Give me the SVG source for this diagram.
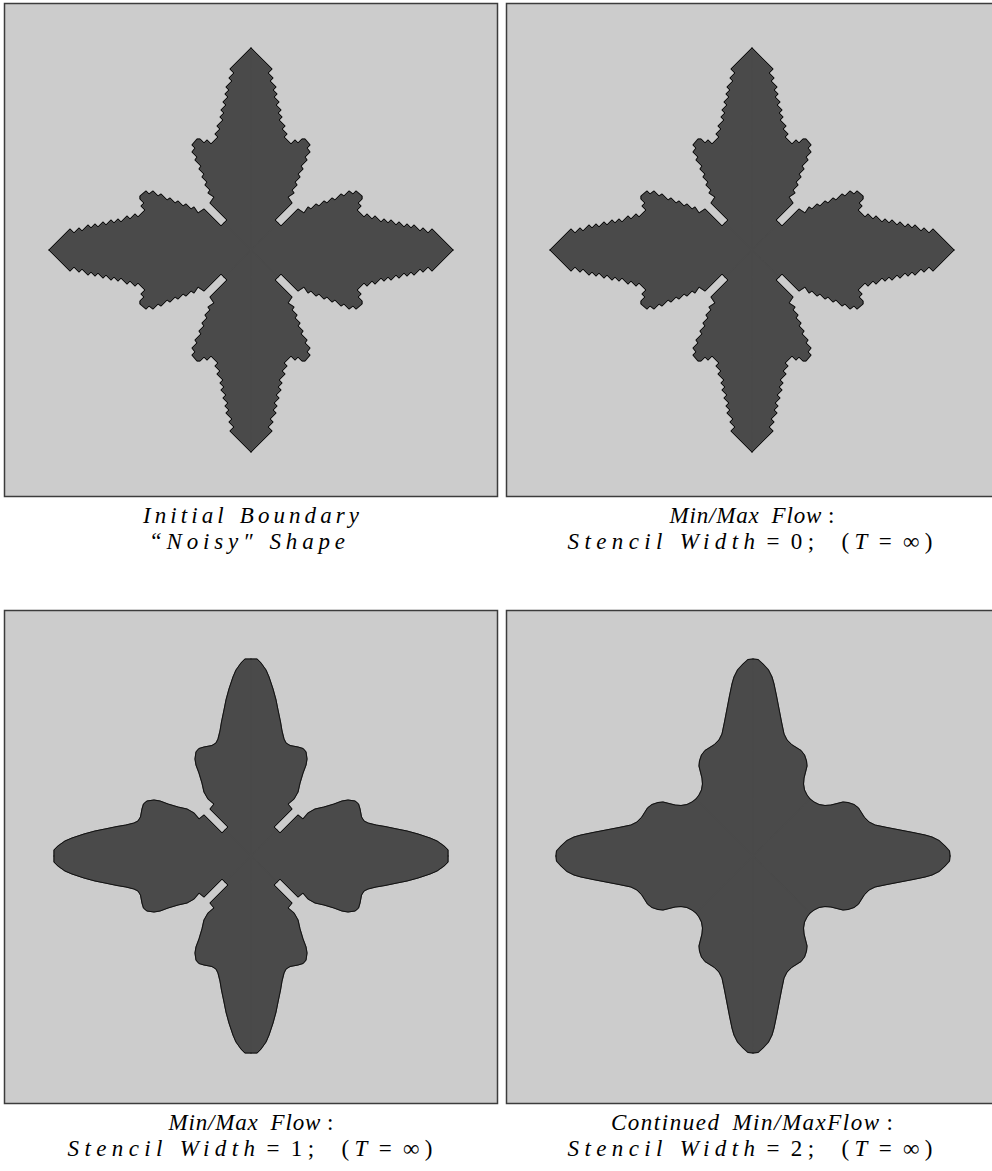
<svg xmlns="http://www.w3.org/2000/svg" width="992" height="1171" viewBox="0 0 992 1171">
<style>
.bg{fill:#ffffff}
.panel{fill:#cccccc;stroke:#3c3c3c;stroke-width:1.5}
.w{fill:#4a4a4a;stroke:#4a4a4a;stroke-width:1.2;stroke-linejoin:round}
.o{fill:none;stroke:#111111;stroke-width:1;stroke-linejoin:miter;stroke-linecap:round}
.cap{font-family:"Liberation Serif","Times New Roman",serif;font-style:italic;font-size:23px;fill:#000000}
.r{font-style:normal}
</style>
<defs>
<path id="s1w" class="w" d="M0,0 L0,-202 L21,-181 L17,-177 L22,-172 L19,-169 L25,-163 L22,-160 L26,-156 L23,-153 L28,-148 L25,-145 L30,-140 L27,-137 L31,-133 L28,-130 L34,-124 L31,-121 L36,-116 L33,-113 L37,-109 L40,-106 L44,-110 L47,-107 L51,-111 L54,-111 L59,-105 L56,-102 L59,-98 L54,-93 L56,-90 L50,-84 L52,-81 L47,-76 L49,-73 L44,-68 L46,-65 L41,-60 L43,-57 L37,-53 L41,-47 L24,-30 L27,-27 Z"/>
<path id="s1o" class="o" d="M0,-202 L21,-181 L17,-177 L22,-172 L19,-169 L25,-163 L22,-160 L26,-156 L23,-153 L28,-148 L25,-145 L30,-140 L27,-137 L31,-133 L28,-130 L34,-124 L31,-121 L36,-116 L33,-113 L37,-109 L40,-106 L44,-110 L47,-107 L51,-111 L54,-111 L59,-105 L56,-102 L59,-98 L54,-93 L56,-90 L50,-84 L52,-81 L47,-76 L49,-73 L44,-68 L46,-65 L41,-60 L43,-57 L37,-53 L41,-47 L24,-30 L27,-27"/>
<path id="s3w" class="w" d="M0,0 L0,-197 L6,-197 L10,-193 L15,-186 L18,-179 L22,-167 L25,-156 L27,-146 L29.5,-134 L31,-125 L33,-117 L35,-113 L39,-110.5 L47,-109 L52,-107.5 L55,-104 L56,-97 L55,-91 L52,-83 L49,-73 L47,-64 L43,-57 L37,-52 L41,-47 L23,-29 L26,-26 Z"/>
<path id="s3o" class="o" d="M0,-197 L6,-197 L10,-193 L15,-186 L18,-179 L22,-167 L25,-156 L27,-146 L29.5,-134 L31,-125 L33,-117 L35,-113 L39,-110.5 L47,-109 L52,-107.5 L55,-104 L56,-97 L55,-91 L52,-83 L49,-73 L47,-64 L43,-57 L37,-52 L41,-47 L23,-29 L26,-26"/>
<path id="s4w" class="w" d="M0,0 L0,-197 L5,-196.5 L10,-192 L15.5,-186 L19,-179 L21,-172 L23.5,-160 L26,-147 L28.5,-134 L31,-122 L34,-116 L38.5,-111.5 L44,-108 L48,-105.5 L51.5,-101 L53.5,-95 L54,-90 L52.5,-84 L51,-78 L50.5,-72 L51.5,-66 L54,-61 L57,-57 Z"/>
<path id="s4o" class="o" d="M0,-197 L5,-196.5 L10,-192 L15.5,-186 L19,-179 L21,-172 L23.5,-160 L26,-147 L28.5,-134 L31,-122 L34,-116 L38.5,-111.5 L44,-108 L48,-105.5 L51.5,-101 L53.5,-95 L54,-90 L52.5,-84 L51,-78 L50.5,-72 L51.5,-66 L54,-61 L57,-57"/>
<g id="s1">
<use href="#s1w"/><use href="#s1w" transform="matrix(0,-1,-1,0,0,0)"/>
<use href="#s1w" transform="rotate(90)"/><use href="#s1w" transform="rotate(90) matrix(0,-1,-1,0,0,0)"/>
<use href="#s1w" transform="rotate(180)"/><use href="#s1w" transform="rotate(180) matrix(0,-1,-1,0,0,0)"/>
<use href="#s1w" transform="rotate(270)"/><use href="#s1w" transform="rotate(270) matrix(0,-1,-1,0,0,0)"/>
<use href="#s1o"/><use href="#s1o" transform="matrix(0,-1,-1,0,0,0)"/>
<use href="#s1o" transform="rotate(90)"/><use href="#s1o" transform="rotate(90) matrix(0,-1,-1,0,0,0)"/>
<use href="#s1o" transform="rotate(180)"/><use href="#s1o" transform="rotate(180) matrix(0,-1,-1,0,0,0)"/>
<use href="#s1o" transform="rotate(270)"/><use href="#s1o" transform="rotate(270) matrix(0,-1,-1,0,0,0)"/>
</g>
<g id="s3">
<use href="#s3w"/><use href="#s3w" transform="matrix(0,-1,-1,0,0,0)"/>
<use href="#s3w" transform="rotate(90)"/><use href="#s3w" transform="rotate(90) matrix(0,-1,-1,0,0,0)"/>
<use href="#s3w" transform="rotate(180)"/><use href="#s3w" transform="rotate(180) matrix(0,-1,-1,0,0,0)"/>
<use href="#s3w" transform="rotate(270)"/><use href="#s3w" transform="rotate(270) matrix(0,-1,-1,0,0,0)"/>
<use href="#s3o"/><use href="#s3o" transform="matrix(0,-1,-1,0,0,0)"/>
<use href="#s3o" transform="rotate(90)"/><use href="#s3o" transform="rotate(90) matrix(0,-1,-1,0,0,0)"/>
<use href="#s3o" transform="rotate(180)"/><use href="#s3o" transform="rotate(180) matrix(0,-1,-1,0,0,0)"/>
<use href="#s3o" transform="rotate(270)"/><use href="#s3o" transform="rotate(270) matrix(0,-1,-1,0,0,0)"/>
</g>
<g id="s4">
<use href="#s4w"/><use href="#s4w" transform="matrix(0,-1,-1,0,0,0)"/>
<use href="#s4w" transform="rotate(90)"/><use href="#s4w" transform="rotate(90) matrix(0,-1,-1,0,0,0)"/>
<use href="#s4w" transform="rotate(180)"/><use href="#s4w" transform="rotate(180) matrix(0,-1,-1,0,0,0)"/>
<use href="#s4w" transform="rotate(270)"/><use href="#s4w" transform="rotate(270) matrix(0,-1,-1,0,0,0)"/>
<use href="#s4o"/><use href="#s4o" transform="matrix(0,-1,-1,0,0,0)"/>
<use href="#s4o" transform="rotate(90)"/><use href="#s4o" transform="rotate(90) matrix(0,-1,-1,0,0,0)"/>
<use href="#s4o" transform="rotate(180)"/><use href="#s4o" transform="rotate(180) matrix(0,-1,-1,0,0,0)"/>
<use href="#s4o" transform="rotate(270)"/><use href="#s4o" transform="rotate(270) matrix(0,-1,-1,0,0,0)"/>
</g>
</defs>
<rect class="bg" x="0" y="0" width="992" height="1171"/>
<g id="panel-1">
<rect class="panel" x="4.5" y="3.5" width="493" height="493"/>
<use href="#s1" transform="translate(251,250)"/>
<text class="cap" x="251" y="523" text-anchor="middle" textLength="216" lengthAdjust="spacing">Initial<tspan dx="12">Boundary</tspan></text>
<text class="cap" x="247" y="549" text-anchor="middle" textLength="196" lengthAdjust="spacing">“Noisy″<tspan dx="12">Shape</tspan></text>
</g>
<g id="panel-2">
<rect class="panel" x="506.5" y="3.5" width="493" height="493"/>
<use href="#s1" transform="translate(752,250)"/>
<text class="cap" x="752" y="523" text-anchor="middle" textLength="165" lengthAdjust="spacing">Min/Max<tspan dx="12">Flow</tspan><tspan class="r" dx="6">:</tspan></text>
<text class="cap" x="750" y="549" text-anchor="middle" textLength="365" lengthAdjust="spacing">Stencil<tspan dx="12">Width</tspan><tspan class="r" dx="6">=</tspan><tspan class="r" dx="6">0;</tspan><tspan class="r" dx="22">(</tspan>T<tspan class="r" dx="6">=</tspan><tspan class="r" dx="6">∞)</tspan></text>
</g>
<g id="panel-3">
<rect class="panel" x="4.5" y="610.5" width="493" height="493"/>
<use href="#s3" transform="translate(251,856)"/>
<text class="cap" x="251" y="1130" text-anchor="middle" textLength="165" lengthAdjust="spacing">Min/Max<tspan dx="12">Flow</tspan><tspan class="r" dx="6">:</tspan></text>
<text class="cap" x="250" y="1156" text-anchor="middle" textLength="365" lengthAdjust="spacing">Stencil<tspan dx="12">Width</tspan><tspan class="r" dx="6">=</tspan><tspan class="r" dx="6">1;</tspan><tspan class="r" dx="22">(</tspan>T<tspan class="r" dx="6">=</tspan><tspan class="r" dx="6">∞)</tspan></text>
</g>
<g id="panel-4">
<rect class="panel" x="506.5" y="610.5" width="493" height="493"/>
<use href="#s4" transform="translate(753,856)"/>
<text class="cap" x="752" y="1130" text-anchor="middle" textLength="282" lengthAdjust="spacing">Continued<tspan dx="12">Min/MaxFlow</tspan><tspan class="r" dx="6">:</tspan></text>
<text class="cap" x="750" y="1156" text-anchor="middle" textLength="365" lengthAdjust="spacing">Stencil<tspan dx="12">Width</tspan><tspan class="r" dx="6">=</tspan><tspan class="r" dx="6">2;</tspan><tspan class="r" dx="22">(</tspan>T<tspan class="r" dx="6">=</tspan><tspan class="r" dx="6">∞)</tspan></text>
</g>
<g id="connectors"/>
</svg>
